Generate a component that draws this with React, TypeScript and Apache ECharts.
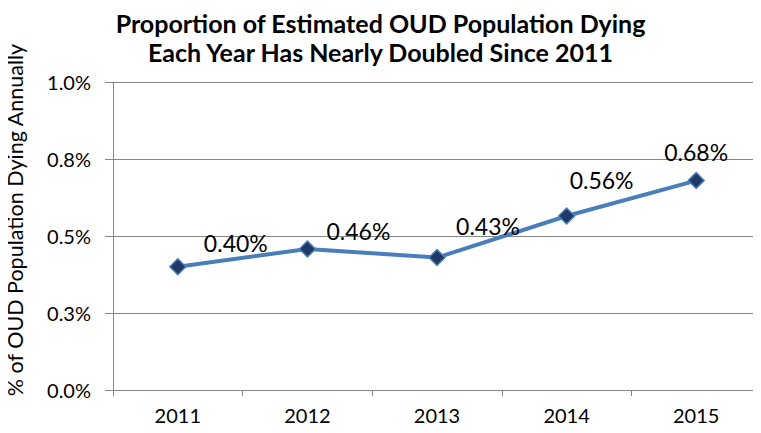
import React, { useEffect, useRef } from "react";
import * as echarts from "echarts";

const titleLines = [
  "Proportion of Estimated OUD Population Dying",
  "Each Year Has Nearly Doubled Since 2011",
];
const yAxisTitle = "% of OUD Population Dying Annually";
const years = ["2011", "2012", "2013", "2014", "2015"];
const rates = [0.4, 0.458, 0.43, 0.565, 0.68];
const rateLabels = ["0.40%", "0.46%", "0.43%", "0.56%", "0.68%"];
const yTickLabels = ["0.0%", "0.3%", "0.5%", "0.8%", "1.0%"];
const labelOffsets = [
  [58, -24],
  [51, -18],
  [51, -32],
  [35, -36],
  [0, -29],
];

const FONT = "Lato, Carlito, Calibri, sans-serif";

export default function App() {
  const ref = useRef<HTMLDivElement>(null);
  useEffect(() => {
    if (!ref.current) return;
    const chart = echarts.init(ref.current, undefined, { renderer: "svg" });
    chart.setOption({
      animation: false,
      backgroundColor: "#ffffff",
      title: {
        text: titleLines.join("\n"),
        left: "center",
        top: 3,
        textStyle: {
          fontFamily: FONT,
          fontWeight: "bold",
          fontSize: 25,
          lineHeight: 29,
          color: "#000000",
        },
      },
      graphic: [
        {
          type: "text",
          x: 15,
          y: 220,
          rotation: Math.PI / 2,
          style: {
            text: yAxisTitle,
            fontFamily: FONT,
            fontSize: 21.5,
            fill: "#000000",
            textAlign: "center",
            textVerticalAlign: "middle",
          },
        },
      ],
      grid: { left: 113, right: -2, top: 82, bottom: 43 },
      xAxis: {
        type: "category",
        data: years,
        boundaryGap: true,
        axisLine: { show: true, lineStyle: { color: "#868686", width: 1 } },
        axisTick: { show: true, length: 6, lineStyle: { color: "#868686" } },
        axisLabel: {
          fontFamily: FONT,
          fontSize: 20,
          color: "#000000",
          margin: 15,
        },
        splitLine: { show: false },
      },
      yAxis: {
        type: "value",
        min: 0,
        max: 1,
        interval: 0.25,
        axisLine: { show: true, lineStyle: { color: "#868686", width: 1 } },
        axisTick: { show: true, length: 8, lineStyle: { color: "#868686" } },
        axisLabel: {
          fontFamily: FONT,
          fontSize: 20,
          color: "#000000",
          margin: 22,
          formatter: (v: number) => yTickLabels[Math.round(v / 0.25)] ?? "",
        },
        splitLine: { show: true, lineStyle: { color: "#868686", width: 1 } },
      },
      series: [
        {
          type: "line",
          data: rates.map((v, i) => ({
            value: v,
            label: {
              show: true,
              position: "inside",
              offset: labelOffsets[i],
              formatter: rateLabels[i],
            },
          })),
          lineStyle: { color: "#4A7EBB", width: 4 },
          symbol: "diamond",
          symbolSize: 16,
          itemStyle: { color: "#1F3864", borderColor: "#4A7EBB", borderWidth: 1.5 },
          label: {
            fontFamily: FONT,
            fontSize: 23,
            color: "#000000",
          },
          z: 5,
        },
      ],
    });
    return () => chart.dispose();
  }, []);
  return <div ref={ref} style={{ width: 761, height: 433, margin: -8 }} />;
}
